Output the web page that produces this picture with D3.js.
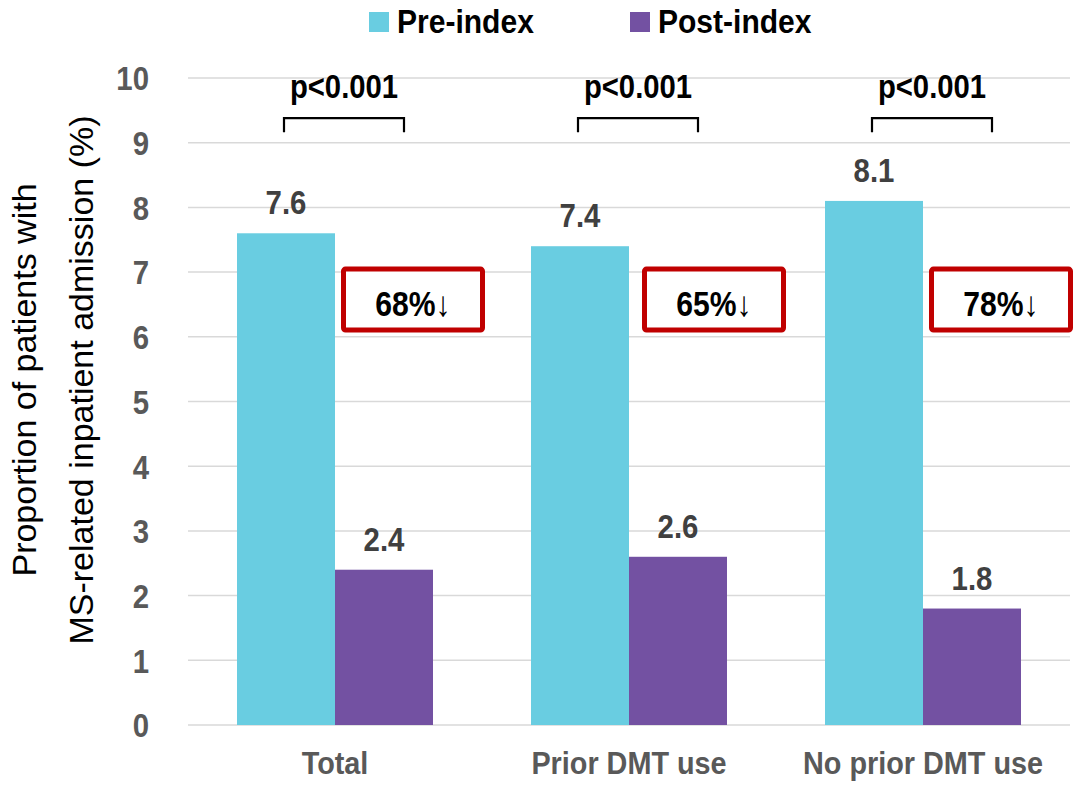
<!DOCTYPE html>
<html>
<head>
<meta charset="utf-8">
<script src="https://cdn.jsdelivr.net/npm/d3@7/dist/d3.min.js"></script>
<style>
  html, body { margin: 0; padding: 0; background: #fff; }
  svg { display: block; }
  .narrow { font-family: "Liberation Sans Narrow", "Arial Narrow", "Liberation Sans", Arial, sans-serif; font-weight: bold; }
</style>
</head>
<body>
<svg id="chart" width="1073" height="789"></svg>
<script>
const categories = ["Total", "Prior DMT use", "No prior DMT use"];
const seriesNames = ["Pre-index", "Post-index"];
const preIndex = [7.6, 7.4, 8.1];
const postIndex = [2.4, 2.6, 1.8];
const reductions = ["68%↓", "65%↓", "78%↓"];
const pValues = ["p<0.001", "p<0.001", "p<0.001"];
const yTicks = [0, 1, 2, 3, 4, 5, 6, 7, 8, 9, 10];
const colors = ["#69CDE1", "#7351A2"];

const svg = d3.select("#chart");
const margin = { left: 188, right: 3, top: 78, bottom: 64 };
const W = 1073, H = 789;
const FS = 33, SQ = 0.89;

// condense text horizontally (no narrow font installed)
function condense(sel, f) {
  sel.each(function () {
    const len = this.getComputedTextLength();
    d3.select(this).attr("textLength", len * f).attr("lengthAdjust", "spacingAndGlyphs");
  });
}

const x0 = d3.scaleBand().domain(categories)
  .range([margin.left, W - margin.right])
  .paddingInner(1 / 3).paddingOuter(1 / 6);
const x1 = d3.scaleBand().domain(seriesNames).range([0, x0.bandwidth()]);
const y = d3.scaleLinear().domain([0, 10]).range([H - margin.bottom, margin.top]);

// gridlines
svg.append("g").selectAll("line").data(yTicks).join("line")
  .attr("x1", margin.left).attr("x2", W - margin.right)
  .attr("y1", d => y(d)).attr("y2", d => y(d))
  .attr("stroke", "#d9d9d9").attr("stroke-width", 1.5);

// y axis tick labels
const yAxis = d3.axisLeft(y).tickValues(yTicks).tickSize(0).tickPadding(39).tickFormat(d3.format("d"));
const gy = svg.append("g").attr("transform", `translate(${margin.left},0)`).call(yAxis);
gy.select(".domain").remove();
gy.selectAll("text").attr("class", "narrow").attr("font-size", FS).attr("font-family", null)
  .attr("fill", "#595959").attr("dy", "0.36em").call(condense, SQ);

// x axis labels
const xAxis = d3.axisBottom(x0).tickSize(0).tickPadding(30);
const gx = svg.append("g").attr("transform", `translate(0,${y(0)})`).call(xAxis);
gx.select(".domain").remove();
gx.selectAll("text").attr("class", "narrow").attr("font-size", 32).attr("font-family", null)
  .attr("fill", "#595959").attr("dy", "0.6em").call(condense, 0.9);

// bars
const rows = categories.map((c, i) => ({ cat: c, vals: [preIndex[i], postIndex[i]] }));
const groups = svg.append("g").selectAll("g").data(rows).join("g")
  .attr("transform", d => `translate(${x0(d.cat)},0)`);
groups.selectAll("rect").data(d => d.vals.map((v, j) => ({ v, s: seriesNames[j], j })))
  .join("rect")
  .attr("x", d => x1(d.s)).attr("width", x1.bandwidth())
  .attr("y", d => y(d.v)).attr("height", d => y(0) - y(d.v))
  .attr("fill", d => colors[d.j]);
groups.selectAll("text.val").data(d => d.vals.map((v, j) => ({ v, s: seriesNames[j] })))
  .join("text").attr("class", "val narrow")
  .attr("x", d => x1(d.s) + x1.bandwidth() / 2)
  .attr("y", d => y(d.v) - 19)
  .attr("text-anchor", "middle").attr("font-size", FS).attr("fill", "#404040")
  .text(d => d.v.toFixed(1)).call(condense, SQ);

// p-value brackets
categories.forEach((c, i) => {
  const cx = x0(c) + x0.bandwidth() / 2 + 9;
  const g = svg.append("g");
  g.append("path")
    .attr("d", `M${cx - 60},${y(9.16)} L${cx - 60},${y(9.38)} L${cx + 60},${y(9.38)} L${cx + 60},${y(9.16)}`)
    .attr("fill", "none").attr("stroke", "#000").attr("stroke-width", 2.2);
  g.append("text").attr("class", "narrow")
    .attr("x", cx).attr("y", y(9.69))
    .attr("text-anchor", "middle").attr("font-size", 34).attr("fill", "#000")
    .text(pValues[i]).call(condense, 0.86);
});

// reduction boxes
categories.forEach((c, i) => {
  const bx = x0(c) + x1("Post-index") + 6 + (i === 1 ? 7 : 0);
  const g = svg.append("g");
  g.append("rect")
    .attr("x", bx + 2.5).attr("y", y(7) - 3)
    .attr("width", 139).attr("height", 61)
    .attr("rx", 2)
    .attr("fill", "#fff").attr("stroke", "#C00000").attr("stroke-width", 5);
  g.append("text")
    .attr("x", bx + 72).attr("y", y(7) + 44)
    .attr("text-anchor", "middle").attr("fill", "#000")
    .attr("class", "narrow").attr("font-size", 35)
    .text(reductions[i]).call(condense, 0.86);
});

// legend
const legendX = [369, 630];
seriesNames.forEach((s, i) => {
  svg.append("rect").attr("x", legendX[i]).attr("y", 12).attr("width", 20).attr("height", 20).attr("fill", colors[i]);
  svg.append("text").attr("class", "narrow").attr("x", legendX[i] + 28).attr("y", 33)
    .attr("font-size", FS).attr("fill", "#000").text(s).call(condense, 0.91);
});

// y axis title
const ty = svg.append("text")
  .attr("transform", `translate(0,380) rotate(-90)`)
  .attr("text-anchor", "middle")
  .attr("font-family", "'Liberation Sans', Arial, sans-serif")
  .attr("font-size", 34).attr("fill", "#000");
ty.append("tspan").attr("x", 0).attr("y", 36).text("Proportion of patients with");
ty.append("tspan").attr("x", 0).attr("y", 93).text("MS-related inpatient admission (%)");
</script>
</body>
</html>
